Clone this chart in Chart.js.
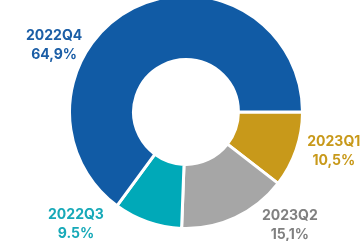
<!DOCTYPE html>
<html><head><meta charset="utf-8">
<script src="https://cdn.jsdelivr.net/npm/chart.js@4/dist/chart.umd.min.js"></script>
<style>html,body{margin:0;padding:0;background:#fff;overflow:hidden}#wrap{position:relative;width:364px;height:241px}</style>
</head><body><div id="wrap"><canvas id="c" width="364" height="241"></canvas></div>
<script>
const categories = ['2023Q1', '2023Q2', '2022Q3', '2022Q4'];
const shares = [10.5, 15.1, 9.5, 64.9];
const valueLabels = ['10,5%', '15,1%', '9.5%', '64,9%'];
const sliceColors = ['#C8991A', '#A6A6A6', '#00A9B8', '#115BA5'];
const labelColors = ['#C8991A', '#808080', '#17A9B8', '#1B5EA6'];
// label block placement: angle (deg, clockwise from top) and distance from centre
const labelPlacement = [[105, 153], [137.6, 154], [224.5, 157], [297, 148]];

const outsideLabels = {
  id: 'outsideLabels',
  afterDatasetsDraw(chart) {
    const ctx = chart.ctx;
    const meta = chart.getDatasetMeta(0);
    ctx.save();
    ctx.font = 'bold 14px Inter';
    ctx.textAlign = 'center';
    ctx.textBaseline = 'middle';
    meta.data.forEach((arc, i) => {
      const p = arc.getProps(['x', 'y'], true);
      const a = labelPlacement[i][0] * Math.PI / 180;
      const d = labelPlacement[i][1];
      const x = p.x + d * Math.sin(a);
      const y = p.y - d * Math.cos(a);
      ctx.fillStyle = labelColors[i];
      ctx.fillText(categories[i], x, y - 9.5);
      ctx.fillText(valueLabels[i], x, y + 9.5);
    });
    ctx.restore();
  }
};

new Chart(document.getElementById('c'), {
  type: 'doughnut',
  data: {
    labels: categories,
    datasets: [{
      data: shares,
      backgroundColor: sliceColors,
      borderColor: '#ffffff',
      borderWidth: 3,
      radius: 116.5,
      hoverOffset: 0
    }]
  },
  options: {
    responsive: false,
    animation: false,
    rotation: 90,
    cutout: '45%',
    layout: { padding: { left: 8, right: 0, top: 0, bottom: 17 } },
    plugins: { legend: { display: false }, tooltip: { enabled: false } }
  },
  plugins: [outsideLabels]
});
</script></body></html>
